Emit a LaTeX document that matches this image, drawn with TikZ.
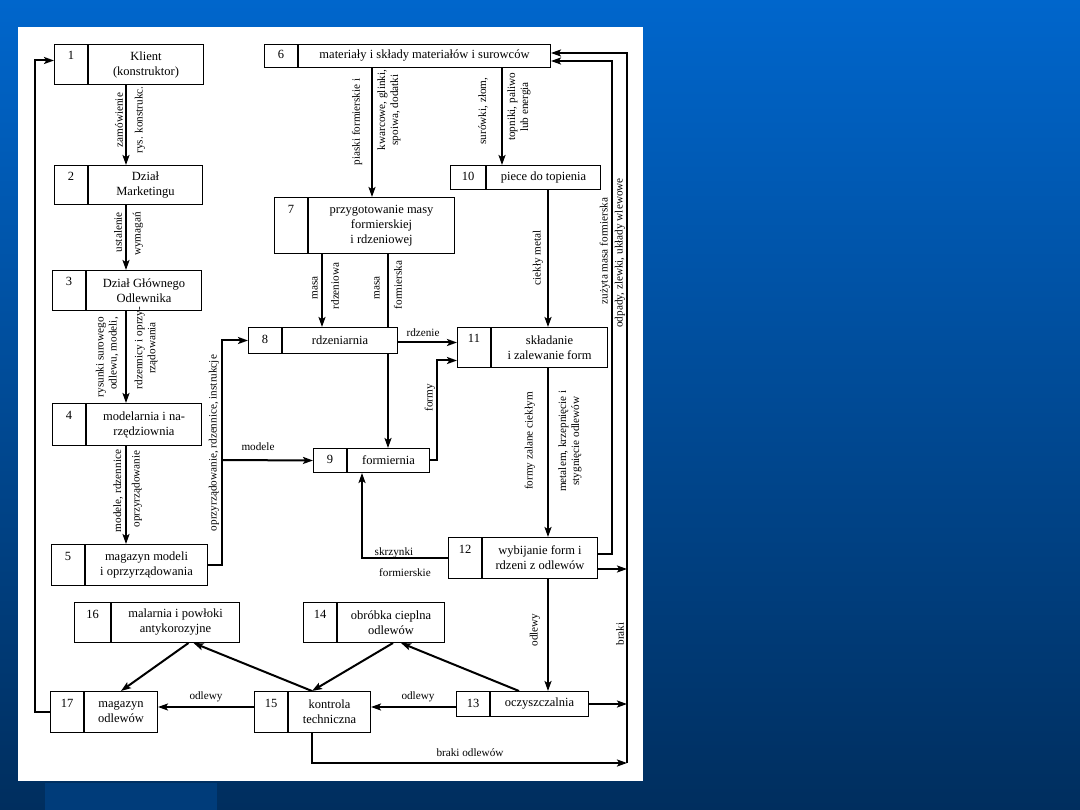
\documentclass[tikz,border=0pt]{standalone}
\usepackage{fontspec}
\setmainfont{Liberation Serif}
\usetikzlibrary{arrows.meta,positioning,backgrounds}
\definecolor{tloGora}{HTML}{0066CC}
\definecolor{tloDol}{HTML}{002E5E}
\definecolor{tloPasek}{HTML}{003C7A}
\tikzset{
  kom/.style  ={draw, fill=white, line width=1pt, inner sep=0pt, align=center, font=\fontsize{12.5}{15}\selectfont},
  nr/.style   ={kom, minimum width=33, text height=9pt, text depth=#1},
  nr/.default =3pt,
  lab/.style  ={align=center, inner sep=0pt, font=\fontsize{11.2}{13}\selectfont},
  pion/.style ={lab, rotate=90},
  arr/.style  ={-{Stealth[length=10pt, width=7pt, inset=2.2pt]}, line width=2pt},
}

\begin{document}
\begin{tikzpicture}[x=1pt, y=-1pt]
  \useasboundingbox (0,0) rectangle (1080,810);
  \begin{scope}[on background layer]
    \shade[top color=tloGora, bottom color=tloDol] (0,0) rectangle (1080,810);
    \fill[tloPasek] (45,783) rectangle (217,810);
    \fill[white] (18,27) rectangle (643,781);
  \end{scope}

  % komorki
  \node[nr=18pt, minimum height=40, anchor=north west] (n1) at (54,44) {1};
  \node[kom, minimum height=40, minimum width=115, right=0pt of n1] (b1) {Klient\\(konstruktor)};
  \node[nr=18pt, minimum height=39, anchor=north west] (n2) at (54,165) {2};
  \node[kom, minimum height=39, minimum width=114, right=0pt of n2] (b2) {Dział\\Marketingu};
  \node[nr=18pt, minimum height=40, anchor=north west] (n3) at (52,270) {3};
  \node[kom, minimum height=40, minimum width=115, right=0pt of n3] (b3) {Dział Głównego\\Odlewnika};
  \node[nr=18pt, minimum height=42, anchor=north west] (n4) at (52,403) {4};
  \node[kom, minimum height=42, minimum width=115, right=0pt of n4] (b4) {modelarnia i na-\\rzędziownia};
  \node[nr=18pt, minimum height=41, anchor=north west] (n5) at (51,544) {5};
  \node[kom, minimum height=41, minimum width=122, right=0pt of n5] (b5) {magazyn modeli\\i oprzyrządowania};
  \node[nr, minimum height=23, anchor=north west] (n6) at (264,44) {6};
  \node[kom, minimum height=23, minimum width=252, right=0pt of n6] (b6) {materiały i składy materiałów i surowców};
  \node[nr, minimum height=24, minimum width=35, anchor=north west] (n10) at (450,165) {10};
  \node[kom, minimum height=24, minimum width=114, right=0pt of n10] (b10) {piece do topienia};
  \node[nr=33pt, minimum height=56, anchor=north west] (n7) at (274,197) {7};
  \node[kom, minimum height=56, minimum width=146, right=0pt of n7] (b7) {przygotowanie masy\\formierskiej\\i rdzeniowej};
  \node[nr, minimum height=26, anchor=north west] (n8) at (248,327) {8};
  \node[kom, minimum height=26, minimum width=115, right=0pt of n8] (b8) {rdzeniarnia};
  \node[nr=18pt, minimum height=40, anchor=north west] (n11) at (457,327) {11};
  \node[kom, minimum height=40, minimum width=116, right=0pt of n11] (b11) {składanie\\i zalewanie form};
  \node[nr, minimum height=24, anchor=north west] (n9) at (313,448) {9};
  \node[kom, minimum height=24, minimum width=82, right=0pt of n9] (b9) {formiernia};
  \node[nr=18pt, minimum height=41, anchor=north west] (n12) at (448,537) {12};
  \node[kom, minimum height=41, minimum width=115, right=0pt of n12] (b12) {wybijanie form i\\rdzeni z odlewów};
  \node[nr=18pt, minimum height=40, minimum width=36, anchor=north west] (n16) at (74,602) {16};
  \node[kom, minimum height=40, minimum width=128, right=0pt of n16] (b16) {malarnia i powłoki\\antykorozyjne};
  \node[nr=18pt, minimum height=41, anchor=north west] (n17) at (50,691) {17};
  \node[kom, minimum height=41, minimum width=73, right=0pt of n17] (b17) {magazyn\\odlewów};
  \node[nr=18pt, minimum height=41, anchor=north west] (n15) at (254,691) {15};
  \node[kom, minimum height=41, minimum width=82, right=0pt of n15] (b15) {kontrola\\techniczna};
  \node[nr=18pt, minimum height=40, anchor=north west] (n14) at (303,602) {14};
  \node[kom, minimum height=40, minimum width=107, right=0pt of n14] (b14) {obróbka cieplna\\odlewów};
  \node[nr, minimum height=25, anchor=north west] (n13) at (456,691) {13};
  \node[kom, minimum height=25, minimum width=98, right=0pt of n13] (b13) {oczyszczalnia};

  % linie pionowe i punkty wejscia
  \coordinate (osL)   at (126,0);
  \coordinate (lewa)  at (35,0);
  \coordinate (k5)    at (222,460);
  \coordinate (k7)    at (372,0);
  \coordinate (k10)   at (502,0);
  \coordinate (kMet)  at (548,0);
  \coordinate (k78)   at (322,0);
  \coordinate (k79)   at (388,0);
  \coordinate (kForm) at (437,0);
  \coordinate (kSkrz) at (362,0);
  \coordinate (kZwr)  at (612,0);
  \coordinate (k15)   at (312,0);
  \coordinate (kBrak) at (627,763);
  \coordinate (poz)   at (0,707);
  \coordinate (we1)   at ([yshift=4]n1.west);
  \coordinate (we6a)  at ([yshift=3]b6.east);
  \coordinate (we6b)  at ([yshift=-5]b6.east);
  \coordinate (wy8)   at ([yshift=-2]b8.east);
  \coordinate (we11)  at ([yshift=-13]n11.west);
  \coordinate (wy12)  at ([yshift=-11]b12.east);

  \draw[arr] (b1.south -| osL) -- (b2.north -| osL);
  \draw[arr] (b2.south -| osL) -- (b3.north -| osL);
  \draw[arr] (b3.south -| osL) -- (b4.north -| osL);
  \draw[arr] (b4.south -| osL) -- (b5.north -| osL);
  \draw[arr] (b5.east) -| (k5) |- (n8.west);
  \draw[arr] (k5) -- (n9.west);
  \draw[arr] (b6.south -| k7) -- (b7.north -| k7);
  \draw[arr] (b6.south -| k10) -- (b10.north -| k10);
  \draw[arr] (b10.south -| kMet) -- (b11.north -| kMet);
  \draw[arr] (b7.south -| k78) -- (b8.north -| k78);
  \begin{scope}[on background layer]
    \draw[arr] (b7.south -| k79) -- (b9.north -| k79);
  \end{scope}
  \draw[arr] (wy8) -- (wy8 -| n11.west);
  \draw[arr] (b9.east) -| (we11 -| kForm) -- (we11);
  \draw[arr] (b11.south -| kMet) -- (b12.north -| kMet);
  \draw[arr] (n12.west) -| (b9.south -| kSkrz);
  \draw[arr] ([yshift=4]b12.east) -| (we6b -| kZwr) -- (we6b);
  \draw[arr] (wy12) -- (wy12 -| kBrak);
  \draw[arr] (b12.south -| kMet) -- (b13.north -| kMet);
  \draw[arr] (b13.east) -- (b13.east -| kBrak);
  \draw[arr] (n13.west |- poz) -- (b15.east |- poz);
  \draw[arr] (n15.west |- poz) -- (b17.east |- poz);
  \draw[arr] (b15.south -| k15) |- (kBrak);
  \draw[arr] (kBrak) -- (we6a -| kBrak) -- (we6a);
  \draw[arr] (n17.west) -| (we1 -| lewa) -- (we1);
  \draw[arr] ([xshift=29]b13.north west) -- ([xshift=10]b14.south);
  \draw[arr] ([xshift=2]b14.south) -- (b15.north -| k15);
  \draw[arr] (b15.north -| k15) -- ([xshift=18]b16.south);
  \draw[arr] ([xshift=13]b16.south) -- (b17.north);

  % opisy
  \node[pion] (lZam) at (119,120) {zamówienie};
  \node[pion] (lRys) at (140,120) {rys. konstrukc.};
  \node[pion, anchor=east] (lUst) at (118,212) {ustalenie};
  \node[pion, anchor=east] (lWym) at (138,212) {wymagań};
  \node[pion, anchor=east, align=right] (lRysunki) at (107,317) {rysunki surowego\\odlewu, modeli,};
  \node[pion] (lRdzennicy) at (146,348) {rdzennicy i oprzy-\\rządowania};
  \node[pion] (lModRdz) at (118,491) {modele, rdzennice};
  \node[pion] (lOprz) at (137,489) {oprzyrządowanie};
  \node[pion] (lInstr) at (214,443) {oprzyrządowanie, rdzennice, instrukcje};
  \node[lab] (lModele) at (258,447) {modele};
  \node[pion] (lPiaski) at (357,122) {piaski formierskie i};
  \node[pion] (lKwarc) at (389,110) {kwarcowe, glinki,\\spoiwa, dodatki};
  \node[pion] (lSur) at (483,111) {surówki, złom,};
  \node[pion] (lTop) at (519,107) {topniki, paliwo\\lub energia};
  \node[pion] (lCiekly) at (538,258) {ciekły metal};
  \node[pion] (lMasaR) at (315,288) {masa};
  \node[pion] (lRdzeniowa) at (335,286) {rdzeniowa};
  \node[pion] (lMasaF) at (377,288) {masa};
  \node[pion] (lFormierska) at (398,285) {formierska};
  \node[lab] (lRdzenie) at (423,333) {rdzenie};
  \node[pion] (lFormy) at (430,398) {formy};
  \node[pion] (lZalane) at (530,441) {formy zalane ciekłym};
  \node[pion] (lKrzep) at (570,441) {metalem, krzepnięcie i\\stygnięcie odlewów};
  \node[lab] (lSkrz) at (394,553) {skrzynki};
  \node[lab] (lSkrzF) at (405,573) {formierskie};
  \node[pion] (lZuzyta) at (605,251) {zużyta masa formierska};
  \node[pion] (lOdpady) at (620,253) {odpady, zlewki, układy wlewowe};
  \node[pion] (lBraki) at (620,634) {braki};
  \node[pion] (lOdl12) at (535,630) {odlewy};
  \node[lab] (lOdl13) at (418,697) {odlewy};
  \node[lab] (lOdl15) at (206,697) {odlewy};
  \node[lab] (lBrOdl) at (470,753) {braki odlewów};
\end{tikzpicture}
\end{document}
